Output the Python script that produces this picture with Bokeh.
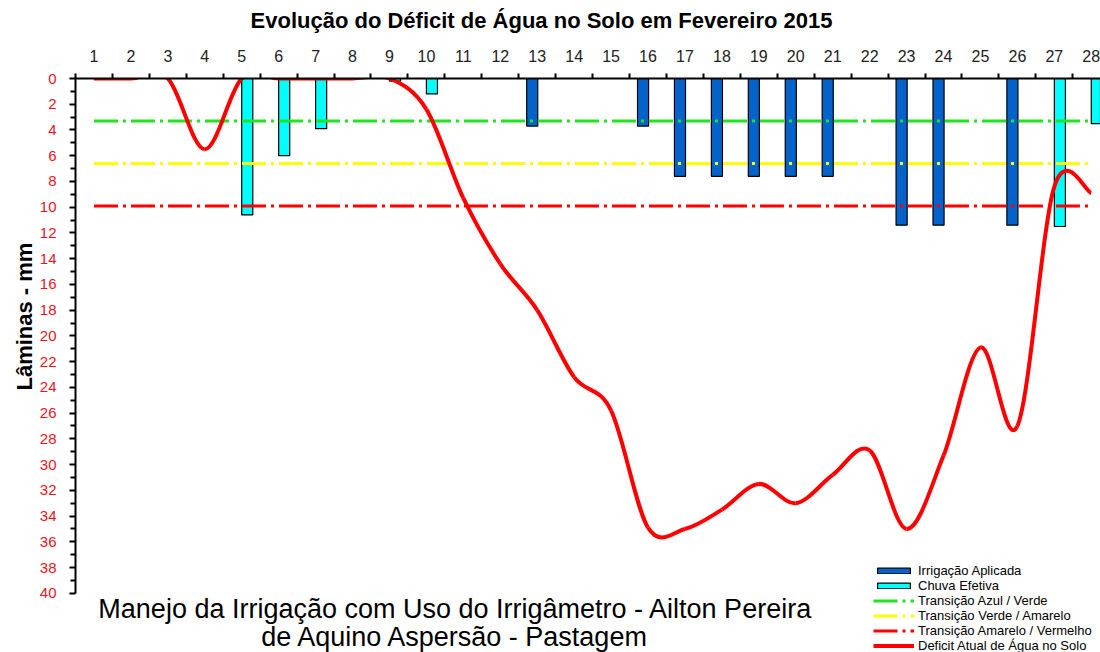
from bokeh.plotting import figure
from bokeh.layouts import column
from bokeh.models import Range1d, FixedTicker, Legend, LegendItem, Label, ColumnDataSource, Title
from bokeh.transform import dodge
from bokeh.embed import file_html
from bokeh.resources import INLINE

# ---------------- data ----------------
days = [1, 2, 3, 4, 5, 6, 7, 8, 9, 10, 11, 12, 13, 14, 15, 16, 17, 18, 19, 20, 21, 22, 23, 24, 25, 26, 27, 28]
day_labels = ["1", "2", "3", "4", "5", "6", "7", "8", "9", "10", "11", "12", "13", "14",
              "15", "16", "17", "18", "19", "20", "21", "22", "23", "24", "25", "26", "27", "28"]
irrigacao = [0, 0, 0, 0, 0, 0, 0, 0, 0, 0, 0, 0, 3.7, 0, 0, 3.7, 7.6, 7.6, 7.6, 7.6, 7.6, 0,
             11.4, 11.4, 0, 11.4, 0, 0]
chuva = [0, 0, 0, 0, 10.6, 6.0, 3.9, 0, 0.2, 1.2, 0, 0, 0, 0, 0, 0, 0, 0, 0, 0, 0, 0,
         0, 0, 0, 0, 11.5, 3.5]
deficit = [0, 0, 0, 5.5, 0, 0, 0, 0, 0, 2.4, 9.3, 14.4, 18.0, 23.2, 25.8, 34.9, 35.0, 33.5,
           31.5, 33.0, 30.8, 28.9, 35.0, 29.3, 20.9, 27.0, 8.4, 8.9]
azul_verde = 3.3
verde_amarelo = 6.6
amarelo_vermelho = 9.9
y_ticks = [0, 2, 4, 6, 8, 10, 12, 14, 16, 18, 20, 22, 24, 26, 28, 30, 32, 34, 36, 38, 40]
y_minor = [1, 3, 5, 7, 9, 11, 13, 15, 17, 19, 21, 23, 25, 27, 29, 31, 33, 35, 37, 39]

titulo = "Evolução do Déficit de Água no Solo em Fevereiro 2015"
rodape1 = "Manejo da Irrigação com Uso do Irrigâmetro - Ailton Pereira"
rodape2 = "de Aquino Aspersão - Pastagem"
y_label = "Lâminas - mm"

FONT = "'Liberation Sans', Arial, sans-serif"

# ---------------- title strip ----------------
tfig = figure(width=1100, height=40, output_backend="svg", toolbar_location=None,
              x_range=Range1d(75, 1100), y_range=Range1d(0, 40),
              min_border_left=75, min_border_right=0, min_border_top=0, min_border_bottom=0)
tfig.axis.visible = False
tfig.grid.visible = False
tfig.outline_line_color = None
tfig.add_layout(Label(x=541, y=20, text=titulo, text_align="center", text_baseline="middle",
                      text_font=FONT, text_font_size="22px", text_font_style="bold",
                      text_color="black"))

# ---------------- main figure ----------------
# frame spans from the top axis down to the bottom of the picture; the left axis stops at 40
p = figure(width=1100, height=612, x_range=Range1d(0.5, 28.25), y_range=Range1d(44.6, 0),
           output_backend="svg", toolbar_location=None, x_axis_location="above",
           min_border_left=75, min_border_right=0, min_border_top=38, min_border_bottom=0,
           title=None)
p.outline_line_color = None
p.xgrid.visible = False
p.ygrid.visible = False
p.background_fill_color = "white"
p.border_fill_color = "white"

# vertical axis title as a left-side Title (can be moved along the axis)
p.add_layout(Title(text=y_label, align="left", offset=262, standoff=0,
                   text_font=FONT, text_font_size="22px", text_font_style="bold",
                   text_color="black"), "left")

# top axis (days)
xa = p.xaxis[0]
xa.ticker = FixedTicker(ticks=days, minor_ticks=[d - 0.5 for d in days] + [days[-1] + 0.5])
xa.major_label_overrides = {d: l for d, l in zip(days, day_labels)}
xa.major_tick_out = 0
xa.major_tick_in = 0
xa.minor_tick_out = 5
xa.minor_tick_in = 0
xa.minor_tick_line_color = "black"
xa.minor_tick_line_width = 2
xa.axis_line_width = 2
xa.axis_line_color = "black"
xa.major_label_text_font = FONT
xa.major_label_text_font_size = "16px"
xa.major_label_text_color = "#222222"
xa.major_label_standoff = 12

# left axis
ya = p.yaxis[0]
ya.bounds = (0, 40)
ya.ticker = FixedTicker(ticks=y_ticks, minor_ticks=y_minor)
ya.major_tick_out = 6
ya.major_tick_in = 0
ya.minor_tick_out = 5
ya.minor_tick_in = 0
ya.major_tick_line_width = 2
ya.minor_tick_line_width = 2
ya.axis_line_width = 2
ya.major_label_text_font = FONT
ya.major_label_text_font_size = "15px"
ya.major_label_text_color = "#E8141E"
ya.major_label_standoff = 13

# ---------------- bars ----------------
irr_src = ColumnDataSource(dict(day=[d for d, v in zip(days, irrigacao) if v > 0],
                                v=[v for v in irrigacao if v > 0]))
chu_src = ColumnDataSource(dict(day=[d for d, v in zip(days, chuva) if v > 0],
                                v=[v for v in chuva if v > 0]))
r_irr = p.vbar(x=dodge("day", -0.135, range=p.x_range), top=0, bottom="v", width=0.3,
               source=irr_src, fill_color="#0363CB", line_color="black", line_width=1.2)
r_chu = p.vbar(x=dodge("day", 0.15, range=p.x_range), top=0, bottom="v", width=0.3,
               source=chu_src, fill_color="#00FFFF", line_color="black", line_width=1.2)

# ---------------- threshold lines ----------------
dash = "24 5 3 5"
r_g = p.line([days[0], days[-1]], [azul_verde, azul_verde], line_color="#1EE61E",
             line_width=3, line_dash=dash)
r_y = p.line([days[0], days[-1]], [verde_amarelo, verde_amarelo], line_color="#FFFF00",
             line_width=3, line_dash=dash)
r_r = p.line([days[0], days[-1]], [amarelo_vermelho, amarelo_vermelho], line_color="#FF0000",
             line_width=3, line_dash=dash)

# ---------------- smoothed deficit curve (bezier through the points) ----------------
n = len(days)
x0, y0, x1, y1, cx0, cy0, cx1, cy1 = [], [], [], [], [], [], [], []
for i in range(n - 1):
    im1 = max(i - 1, 0)
    ip2 = min(i + 2, n - 1)
    x0.append(days[i]); y0.append(deficit[i])
    x1.append(days[i + 1]); y1.append(deficit[i + 1])
    cx0.append(days[i] + (days[i + 1] - days[im1]) / 6.0)
    cy0.append(deficit[i] + (deficit[i + 1] - deficit[im1]) / 6.0)
    cx1.append(days[i + 1] - (days[ip2] - days[i]) / 6.0)
    cy1.append(deficit[i + 1] - (deficit[ip2] - deficit[i]) / 6.0)
r_def = p.bezier(x0=x0, y0=y0, x1=x1, y1=y1, cx0=cx0, cy0=cy0, cx1=cx1, cy1=cy1,
                 line_color="#FF0000", line_width=4)

# ---------------- legend ----------------
legend = Legend(items=[
    LegendItem(label="Irrigação Aplicada", renderers=[r_irr]),
    LegendItem(label="Chuva Efetiva", renderers=[r_chu]),
    LegendItem(label="Transição Azul / Verde", renderers=[r_g]),
    LegendItem(label="Transição Verde / Amarelo", renderers=[r_y]),
    LegendItem(label="Transição Amarelo / Vermelho", renderers=[r_r]),
    LegendItem(label="Deficit Atual de Água no Solo", renderers=[r_def]),
], location=(798, -1))
legend.label_text_font = FONT
legend.label_text_font_size = "13px"
legend.label_text_color = "black"
legend.glyph_width = 41
legend.glyph_height = 7
legend.label_height = 13
legend.label_standoff = 4
legend.spacing = 0
legend.padding = 0
legend.margin = 0
legend.border_line_color = None
legend.background_fill_alpha = 0
p.add_layout(legend)

# ---------------- footer text (inside the frame, below the 40 mark) ----------------
p.add_layout(Label(x=380, x_units="screen", y=44, y_units="screen", text=rodape1,
                   text_align="center", text_baseline="middle", text_font=FONT,
                   text_font_size="27px", text_color="black"))
p.add_layout(Label(x=380, x_units="screen", y=16, y_units="screen", text=rodape2,
                   text_align="center", text_baseline="middle", text_font=FONT,
                   text_font_size="27px", text_color="black"))

layout = column(tfig, p, spacing=0)
open("out.html", "w").write(file_html(layout, INLINE))
